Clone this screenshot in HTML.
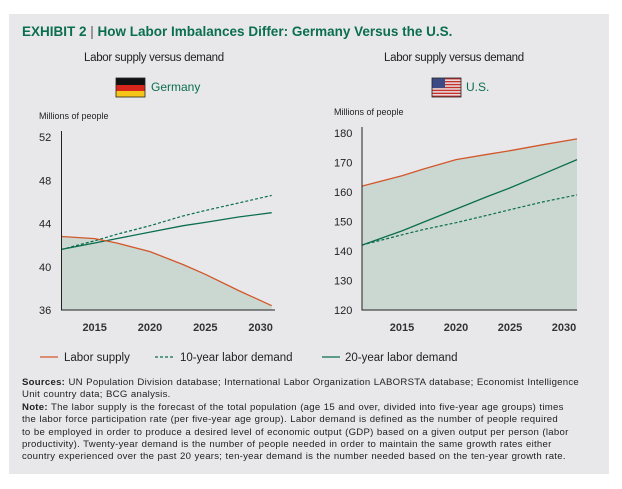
<!DOCTYPE html>
<html><head><meta charset="utf-8"><style>
body{margin:0;background:#fff;width:622px;height:489px;overflow:hidden;font-family:"Liberation Sans",sans-serif}
#panel{position:absolute;left:9px;top:14px;width:600px;height:460px;background:#e8e8ea}
.t{position:absolute;white-space:nowrap}
#notes{position:absolute;left:22px;top:377px;font-size:9.6px;line-height:12.4px;color:#222;white-space:nowrap;letter-spacing:0.26px;word-spacing:0.4px}
</style></head><body>
<div id="panel"></div>
<div class="t" style="left:22px;top:24px;font-size:13.5px;font-weight:bold;color:#0b6e4f">EXHIBIT 2 <span style="font-weight:normal;color:#555">|</span> How Labor Imbalances Differ: Germany Versus the U.S.</div>
<div class="t" style="left:84px;top:52px;font-size:11.5px;color:#222;letter-spacing:-0.3px">Labor supply versus demand</div>
<div class="t" style="left:384px;top:52px;font-size:11.5px;color:#222;letter-spacing:-0.3px">Labor supply versus demand</div>
<div class="t" style="left:151px;top:80px;font-size:12px;color:#0b6e4f">Germany</div>
<div class="t" style="left:466px;top:80px;font-size:12px;color:#0b6e4f">U.S.</div>
<svg width="622" height="489" style="position:absolute;left:0;top:0" id="svg">
<g>
<rect x="116" y="78" width="29" height="7" fill="#111"/><rect x="116" y="85" width="29" height="6" fill="#d9261c"/><rect x="116" y="91" width="29" height="6" fill="#f5c518"/><rect x="116" y="78" width="29" height="19" fill="none" stroke="#222" stroke-width="0.8"/></g>
<g id="usflag"></g>
<g id="charts"></g>
<g font-size="11.5" fill="#222">
<g><line x1="40" x2="58" y1="357" y2="357" stroke="#d2572a" stroke-width="1.3"/><text x="64" y="361">Labor supply</text></g>
<g><line x1="155" x2="175" y1="357" y2="357" stroke="#0b6e4f" stroke-width="1.2" stroke-dasharray="3,2"/><text x="180" y="361">10-year labor demand</text></g>
<g><line x1="322" x2="340" y1="357" y2="357" stroke="#0b6e4f" stroke-width="1.3"/><text x="345" y="361">20-year labor demand</text></g>
</g>
</svg>
<div id="notes"><b>Sources:</b> UN Population Division database; International Labor Organization LABORSTA database; Economist Intelligence<br>Unit country data; BCG analysis.<br><b>Note:</b> The labor supply is the forecast of the total population (age 15 and over, divided into five-year age groups) times<br>the labor force participation rate (per five-year age group). Labor demand is defined as the number of people required<br>to be employed in order to produce a desired level of economic output (GDP) based on a given output per person (labor<br>productivity). Twenty-year demand is the number of people needed in order to maintain the same growth rates either<br>country experienced over the past 20 years; ten-year demand is the number needed based on the ten-year growth rate.</div>
<script>
const years=[2012,2015,2017,2020,2023,2025,2028,2031];
const deSupply=[42.8,42.6,42.2,41.4,40.2,39.3,37.8,36.4];
const de10=[41.6,42.4,43.0,43.8,44.7,45.2,45.9,46.6];
const de20=[41.6,42.2,42.6,43.2,43.8,44.1,44.6,45.0];
const deTicks=[36,40,44,48,52];
const usYears=[2011.3,2015,2017,2020,2023,2025,2028,2031.2];
const usSupply=[162,165.5,167.8,171,172.8,174,176,178];
const us10=[142,145.5,147.3,149.6,152.2,154,156.6,159];
const us20=[142,146.8,149.8,154.2,158.6,161.4,166,171];
const usTicks=[120,130,140,150,160,170,180];
const xTicks=[2015,2020,2025,2030];
const NS='http://www.w3.org/2000/svg';
const root=document.getElementById('charts');
function mk(tag,attrs,parent){const e=document.createElementNS(NS,tag);for(const k in attrs)e.setAttribute(k,attrs[k]);parent.appendChild(e);return e;}
function chart(name,xs,sup,d10,d20,ticks,x0,x1,xd0,xd1,ymin,ymax,yTop,yBot,tickX){
 const g=mk('g',{},root);
 
 
 const sx=v=>x0+(v-xd0)/(xd1-xd0)*(x1-x0);
 const sy=v=>yBot-(v-ymin)/(ymax-ymin)*(yBot-yTop);
 const pts=a=>a.map((v,i)=>sx(xs[i]).toFixed(1)+','+sy(v).toFixed(1));
 const area=mk('polygon',{points:sx(xs[0])+','+yBot+' '+pts(sup).join(' ')+' '+sx(xs[xs.length-1])+','+yBot,fill:'#cbd8d2'},g);
 
 
 const yl=mk('text',{x:tickX,y:yTop-18,'font-size':'9','fill':'#222'},g);yl.textContent='Millions of people';
 
 
 ticks.forEach(t=>{const e=mk('text',{x:tickX,y:sy(t)+4,'font-size':'11','fill':'#222'},g);e.textContent=t;
  
  });
 xTicks.forEach(t=>{const e=mk('text',{x:sx(t),y:yBot+21,'font-size':'11','font-weight':'bold','fill':'#333','text-anchor':'middle'},g);e.textContent=t;
  
  });
 const l10=mk('polyline',{points:pts(d10).join(' '),fill:'none',stroke:'#0b6e4f','stroke-width':'1.2','stroke-dasharray':'3,2'},g);
 
 
 const l20=mk('polyline',{points:pts(d20).join(' '),fill:'none',stroke:'#0b6e4f','stroke-width':'1.3'},g);
 
 
 const ls=mk('polyline',{points:pts(sup).join(' '),fill:'none',stroke:'#d2572a','stroke-width':'1.3'},g);
 
 
 const ax=mk('path',{d:'M'+x0+','+(yTop-6)+' V'+yBot+' H'+x1,fill:'none',stroke:'#222','stroke-width':'1'},g);
 
 
}
chart('germany-chart',years,deSupply,de10,de20,deTicks,61.5,275,2012,2031.3,36,52,137,310,39);
chart('us-chart',usYears,usSupply,us10,us20,usTicks,362,577,2011.3,2031.2,120,180,133,310,334);
const f=document.getElementById('usflag');
for(let i=0;i<7;i++){mk('rect',{x:432,y:78+i*19/6.5,width:29,height:19/13,fill:'#c8302c'},f);}
mk('rect',{x:432,y:78,width:13,height:10,fill:'#3c4a86'},f);
mk('rect',{x:432,y:78,width:29,height:19,fill:'none',stroke:'#222','stroke-width':'0.8'},f);
</script>
</body></html>
